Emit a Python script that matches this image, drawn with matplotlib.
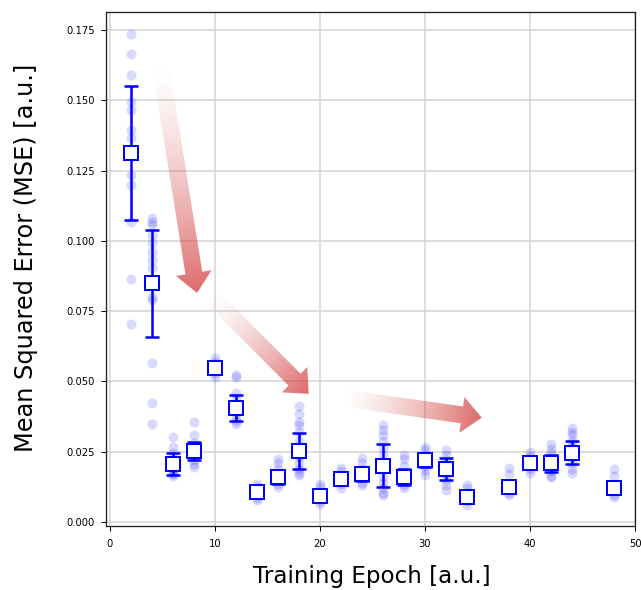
import numpy as np
import matplotlib
matplotlib.use("Agg")
import matplotlib.pyplot as plt
from matplotlib.patches import Polygon

# ---------------- data ----------------
epochs = [2, 4, 6, 8, 10, 12, 14, 16, 18, 20, 22, 24, 26, 28, 30, 32, 34, 38, 40, 42, 44, 48]
mean_mse = [0.1312, 0.0849, 0.0206, 0.0253, 0.0547, 0.0406, 0.0108, 0.0159, 0.0252, 0.0092,
            0.0152, 0.0170, 0.0201, 0.0159, 0.0221, 0.0189, 0.0090, 0.0123, 0.0211, 0.0209,
            0.0247, 0.0120]
std_mse = [0.0239, 0.0190, 0.0038, 0.0031, 0.0020, 0.0046, 0.0020, 0.0024, 0.0063, 0.0020,
           0.0020, 0.0024, 0.0076, 0.0028, 0.0025, 0.0040, 0.0020, 0.0020, 0.0020, 0.0030,
           0.0041, 0.0020]

runs_ep02 = [0.1735, 0.1663, 0.1589, 0.1495, 0.1465, 0.1394, 0.1365, 0.1310, 0.1234, 0.1198, 0.1068, 0.0864, 0.0704]
runs_ep04 = [0.1080, 0.1068, 0.1056, 0.1021, 0.0991, 0.0962, 0.0932, 0.0903, 0.0801, 0.0790, 0.0565, 0.0424, 0.0348]
runs_ep06 = [0.0303, 0.0268, 0.0245, 0.0220, 0.0200, 0.0185, 0.0175, 0.0170, 0.0165]
runs_ep08 = [0.0357, 0.0310, 0.0280, 0.0260, 0.0240, 0.0220, 0.0205, 0.0197]
runs_ep10 = [0.0585, 0.0570, 0.0550, 0.0530, 0.0515]
runs_ep12 = [0.0523, 0.0515, 0.0460, 0.0440, 0.0410, 0.0390, 0.0370, 0.0360, 0.0350]
runs_ep14 = [0.0135, 0.0125, 0.0110, 0.0095, 0.0085, 0.0080]
runs_ep16 = [0.0223, 0.0210, 0.0190, 0.0170, 0.0150, 0.0135, 0.0125]
runs_ep18 = [0.0413, 0.0385, 0.0357, 0.0345, 0.0320, 0.0290, 0.0260, 0.0230, 0.0210, 0.0190, 0.0175, 0.0167]
runs_ep20 = [0.0135, 0.0125, 0.0105, 0.0090, 0.0075, 0.0065]
runs_ep22 = [0.0193, 0.0180, 0.0165, 0.0150, 0.0135, 0.0120]
runs_ep24 = [0.0227, 0.0210, 0.0190, 0.0170, 0.0155, 0.0140, 0.0132]
runs_ep26 = [0.0345, 0.0328, 0.0310, 0.0290, 0.0265, 0.0240, 0.0210, 0.0190, 0.0160, 0.0140, 0.0120, 0.0105, 0.0096]
runs_ep28 = [0.0238, 0.0225, 0.0200, 0.0170, 0.0150, 0.0130, 0.0120]
runs_ep30 = [0.0268, 0.0255, 0.0240, 0.0220, 0.0200, 0.0185, 0.0167]
runs_ep32 = [0.0256, 0.0240, 0.0220, 0.0195, 0.0170, 0.0150, 0.0130, 0.0115]
runs_ep34 = [0.0132, 0.0120, 0.0105, 0.0090, 0.0075, 0.0062]
runs_ep38 = [0.0193, 0.0170, 0.0135, 0.0120, 0.0105, 0.0095]
runs_ep40 = [0.0250, 0.0235, 0.0220, 0.0205, 0.0190, 0.0175]
runs_ep42 = [0.0277, 0.0260, 0.0245, 0.0220, 0.0200, 0.0180, 0.0165, 0.0160]
runs_ep44 = [0.0333, 0.0320, 0.0310, 0.0290, 0.0270, 0.0250, 0.0230, 0.0210, 0.0190, 0.0175]
runs_ep48 = [0.0187, 0.0165, 0.0130, 0.0110, 0.0095, 0.0088]

all_runs = [runs_ep02, runs_ep04, runs_ep06, runs_ep08, runs_ep10, runs_ep12, runs_ep14,
            runs_ep16, runs_ep18, runs_ep20, runs_ep22, runs_ep24, runs_ep26, runs_ep28,
            runs_ep30, runs_ep32, runs_ep34, runs_ep38, runs_ep40, runs_ep42, runs_ep44,
            runs_ep48]

# trend arrows (tail -> tip) in data coordinates
arrow_tails = [(4.76, 0.1636), (9.52, 0.0808), (21.9, 0.0443)]
arrow_tips = [(8.29, 0.0815), (18.92, 0.0456), (35.4, 0.0371)]

x_ticks = [0, 10, 20, 30, 40, 50]
y_ticks = [0.000, 0.025, 0.050, 0.075, 0.100, 0.125, 0.150, 0.175]

# ---------------- figure ----------------
DPI = 72
W, H = 641, 590
fig = plt.figure(figsize=(W / DPI, H / DPI), dpi=DPI)
ax_l, ax_r, ax_t, ax_b = 106, 635, 11.7, 525.7
ax = fig.add_axes([ax_l / W, 1 - ax_b / H, (ax_r - ax_l) / W, (ax_b - ax_t) / H])

xlim = (-0.38, 50.0)
ylim = (-0.0013, 0.1815)
ax.set_xlim(*xlim)
ax.set_ylim(*ylim)

# individual runs
for ep, runs in zip(epochs, all_runs):
    ax.plot([ep] * len(runs), runs, 'o', color='blue', alpha=0.15, markersize=10,
            markeredgewidth=0, zorder=2)

# mean +- std
ax.errorbar(epochs, mean_mse, yerr=std_mse, fmt='none', ecolor='blue', elinewidth=2.5,
            capsize=7, capthick=2.5, zorder=3)
ax.plot(epochs, mean_mse, 's', markersize=14, markerfacecolor='white',
        markeredgecolor='blue', markeredgewidth=2, linestyle='none', zorder=4)

# gradient arrows
shaft_w, head_w, head_l = 17.0, 36.0, 20.0
bbox = ax.get_window_extent()
nx, ny = int(bbox.width), int(bbox.height)
gx = np.linspace(bbox.x0, bbox.x1, nx)
gy = np.linspace(bbox.y0, bbox.y1, ny)
GX, GY = np.meshgrid(gx, gy)
arrow_rgb = (0.82, 0.22, 0.22)
for tail, tip in zip(arrow_tails, arrow_tips):
    T = ax.transData.transform(tail)
    P = ax.transData.transform(tip)
    d = P - T
    L = np.hypot(*d)
    u = d / L
    n = np.array([-u[1], u[0]])
    B = P - head_l * u
    verts = [T + n * shaft_w / 2, B + n * shaft_w / 2, B + n * head_w / 2, P,
             B - n * head_w / 2, B - n * shaft_w / 2, T - n * shaft_w / 2]
    verts_data = ax.transData.inverted().transform(np.array(verts))
    poly = Polygon(verts_data, closed=True, transform=ax.transData, facecolor='none',
                   edgecolor='none')
    ax.add_patch(poly)
    t = ((GX - T[0]) * u[0] + (GY - T[1]) * u[1]) / L
    t = np.clip(t, 0, 1)
    img = np.zeros((ny, nx, 4))
    img[..., 0], img[..., 1], img[..., 2] = arrow_rgb
    img[..., 3] = 0.75 * t ** 1.4
    im = ax.imshow(img, extent=[xlim[0], xlim[1], ylim[0], ylim[1]], origin='lower',
                   aspect='auto', interpolation='bilinear', zorder=1.5)
    im.set_clip_path(poly)

ax.set_xlim(*xlim)
ax.set_ylim(*ylim)

ax.set_xticks(x_ticks)
ax.set_yticks(y_ticks)
ax.set_yticklabels([f"{v:.3f}" for v in y_ticks])
ax.tick_params(axis='both', labelsize=10, length=5, width=1, color='black')
ax.tick_params(axis='x', pad=8)
ax.tick_params(axis='y', pad=6)
ax.grid(True, color='#d3d3d3', linewidth=1.5)
ax.set_axisbelow(True)
for s in ax.spines.values():
    s.set_color('#222222')
    s.set_linewidth(1.3)

ax.set_xlabel("Training Epoch [a.u.]", fontsize=23)
ax.set_ylabel("Mean Squared Error (MSE) [a.u.]", fontsize=24)
# label anchor positions (xlabel: top edge, ylabel: right edge)
ax.xaxis.set_label_coords((372 - ax_l) / (ax_r - ax_l), -(565 - ax_b) / (ax_b - ax_t))
ax.yaxis.set_label_coords(-(ax_l - 38) / (ax_r - ax_l), (ax_b - 258) / (ax_b - ax_t))

fig.savefig("out.png", dpi=DPI)
